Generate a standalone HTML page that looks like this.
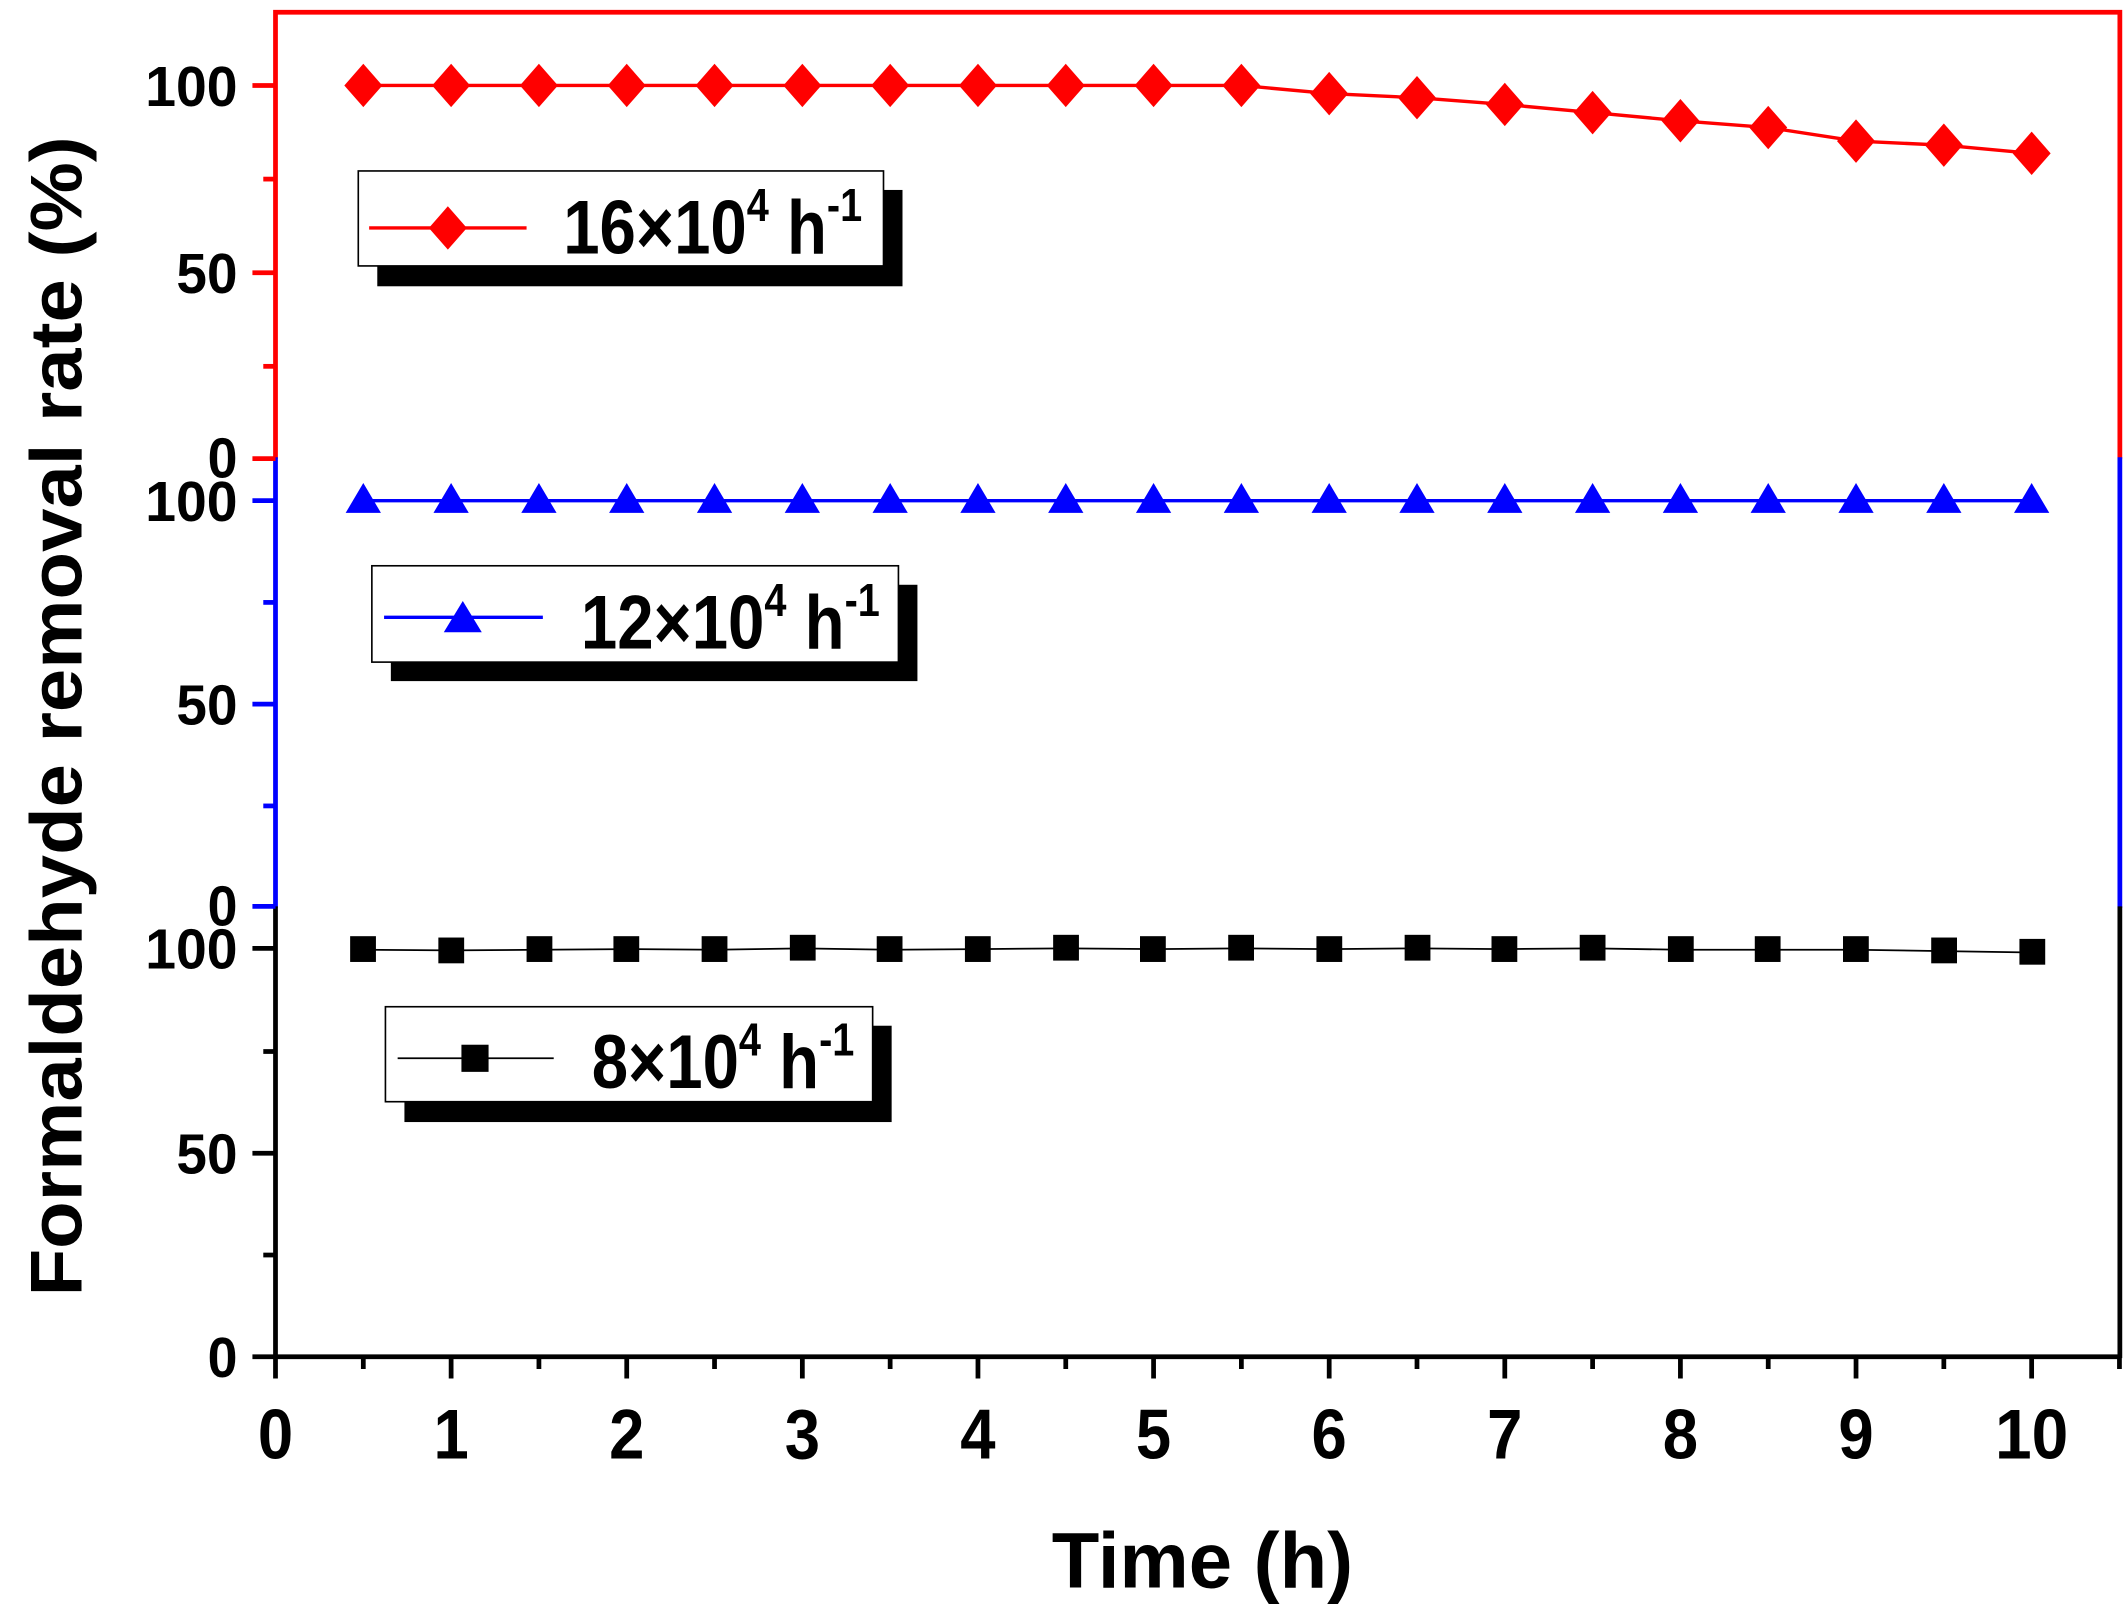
<!DOCTYPE html>
<html><head><meta charset="utf-8"><style>
html,body{margin:0;padding:0;background:#fff;}
svg{display:block;}
text{font-family:"Liberation Sans",Arial,sans-serif;font-weight:bold;}
</style></head><body>
<svg width="2128" height="1620" viewBox="0 0 1568 1194" preserveAspectRatio="none" xmlns="http://www.w3.org/2000/svg">
<rect width="1568" height="1194" fill="#fff"/>
<polyline points="203,338 203,9 1562,9 1562,338" fill="none" stroke="#f00" stroke-width="3.5"/>
<line x1="203" y1="337" x2="203" y2="669" stroke="#00f" stroke-width="3.5"/>
<line x1="1562" y1="337" x2="1562" y2="669" stroke="#00f" stroke-width="3.5"/>
<line x1="203" y1="668" x2="203" y2="1001" stroke="#000" stroke-width="3.5"/>
<line x1="1562" y1="668" x2="1562" y2="1001" stroke="#000" stroke-width="3.5"/>
<line x1="186" y1="1000" x2="1563" y2="1000" stroke="#000" stroke-width="3.5"/>
<g stroke="#f00" stroke-width="3.5">
<line x1="186" y1="63" x2="203" y2="63"/><line x1="194" y1="132" x2="203" y2="132"/>
<line x1="186" y1="201" x2="203" y2="201"/><line x1="194" y1="270" x2="203" y2="270"/>
<line x1="186" y1="338" x2="203" y2="338"/></g>
<g stroke="#00f" stroke-width="3.5">
<line x1="186" y1="369" x2="203" y2="369"/><line x1="194" y1="444" x2="203" y2="444"/>
<line x1="186" y1="519" x2="203" y2="519"/><line x1="194" y1="594" x2="203" y2="594"/>
<line x1="186" y1="668" x2="203" y2="668"/></g>
<g stroke="#000" stroke-width="3.5">
<line x1="186" y1="699" x2="203" y2="699"/><line x1="194" y1="775" x2="203" y2="775"/>
<line x1="186" y1="850" x2="203" y2="850"/><line x1="194" y1="925" x2="203" y2="925"/></g>
<g font-size="42" text-anchor="end">
<text x="175" y="78" textLength="68" lengthAdjust="spacingAndGlyphs">100</text>
<text x="175" y="216" textLength="45" lengthAdjust="spacingAndGlyphs">50</text>
<text x="175" y="352" textLength="22" lengthAdjust="spacingAndGlyphs">0</text>
<text x="175" y="384" textLength="68" lengthAdjust="spacingAndGlyphs">100</text>
<text x="175" y="534" textLength="45" lengthAdjust="spacingAndGlyphs">50</text>
<text x="175" y="682" textLength="22" lengthAdjust="spacingAndGlyphs">0</text>
<text x="175" y="714" textLength="68" lengthAdjust="spacingAndGlyphs">100</text>
<text x="175" y="865" textLength="45" lengthAdjust="spacingAndGlyphs">50</text>
<text x="175" y="1015" textLength="22" lengthAdjust="spacingAndGlyphs">0</text>
</g>
<g stroke="#000" stroke-width="3.5">
<line x1="203.0" y1="1000" x2="203.0" y2="1016"/><line x1="267.7" y1="1000" x2="267.7" y2="1009"/>
<line x1="332.4" y1="1000" x2="332.4" y2="1016"/><line x1="397.1" y1="1000" x2="397.1" y2="1009"/>
<line x1="461.8" y1="1000" x2="461.8" y2="1016"/><line x1="526.5" y1="1000" x2="526.5" y2="1009"/>
<line x1="591.2" y1="1000" x2="591.2" y2="1016"/><line x1="655.9" y1="1000" x2="655.9" y2="1009"/>
<line x1="720.6" y1="1000" x2="720.6" y2="1016"/><line x1="785.3" y1="1000" x2="785.3" y2="1009"/>
<line x1="850.0" y1="1000" x2="850.0" y2="1016"/><line x1="914.7" y1="1000" x2="914.7" y2="1009"/>
<line x1="979.4" y1="1000" x2="979.4" y2="1016"/><line x1="1044.1" y1="1000" x2="1044.1" y2="1009"/>
<line x1="1108.8" y1="1000" x2="1108.8" y2="1016"/><line x1="1173.5" y1="1000" x2="1173.5" y2="1009"/>
<line x1="1238.2" y1="1000" x2="1238.2" y2="1016"/><line x1="1302.9" y1="1000" x2="1302.9" y2="1009"/>
<line x1="1367.6" y1="1000" x2="1367.6" y2="1016"/><line x1="1432.3" y1="1000" x2="1432.3" y2="1009"/>
<line x1="1497.0" y1="1000" x2="1497.0" y2="1016"/><line x1="1561.7" y1="1000" x2="1561.7" y2="1009"/>
</g>
<g font-size="52" text-anchor="middle">
<text x="203" y="1075" textLength="26" lengthAdjust="spacingAndGlyphs">0</text>
<text x="332.4" y="1075" textLength="26" lengthAdjust="spacingAndGlyphs">1</text>
<text x="461.8" y="1075" textLength="26" lengthAdjust="spacingAndGlyphs">2</text>
<text x="591.2" y="1075" textLength="26" lengthAdjust="spacingAndGlyphs">3</text>
<text x="720.6" y="1075" textLength="26" lengthAdjust="spacingAndGlyphs">4</text>
<text x="850" y="1075" textLength="26" lengthAdjust="spacingAndGlyphs">5</text>
<text x="979.4" y="1075" textLength="26" lengthAdjust="spacingAndGlyphs">6</text>
<text x="1108.8" y="1075" textLength="26" lengthAdjust="spacingAndGlyphs">7</text>
<text x="1238.2" y="1075" textLength="26" lengthAdjust="spacingAndGlyphs">8</text>
<text x="1367.6" y="1075" textLength="26" lengthAdjust="spacingAndGlyphs">9</text>
<text x="1497" y="1075" textLength="54" lengthAdjust="spacingAndGlyphs">10</text>
</g>
<text x="886" y="1170" font-size="58" text-anchor="middle" textLength="222" lengthAdjust="spacingAndGlyphs">Time (h)</text>
<text transform="translate(60,528) rotate(-90)" font-size="54" text-anchor="middle" textLength="855" lengthAdjust="spacingAndGlyphs">Formaldehyde removal rate (%)</text>
<polyline fill="none" stroke="#f00" stroke-width="2.5" points="267.7,63 332.4,63 397.1,63 461.8,63 526.5,63 591.2,63 655.9,63 720.6,63 785.3,63 850,63 914.7,63 979.4,69 1044.1,72 1108.8,77 1173.5,83 1238.2,89 1302.9,94 1367.6,104 1432.3,107 1497,113"/>
<g fill="#f00">
<path d="M267.7,47 l14,16 -14,16 -14,-16z"/><path d="M332.4,47 l14,16 -14,16 -14,-16z"/>
<path d="M397.1,47 l14,16 -14,16 -14,-16z"/><path d="M461.8,47 l14,16 -14,16 -14,-16z"/>
<path d="M526.5,47 l14,16 -14,16 -14,-16z"/><path d="M591.2,47 l14,16 -14,16 -14,-16z"/>
<path d="M655.9,47 l14,16 -14,16 -14,-16z"/><path d="M720.6,47 l14,16 -14,16 -14,-16z"/>
<path d="M785.3,47 l14,16 -14,16 -14,-16z"/><path d="M850,47 l14,16 -14,16 -14,-16z"/>
<path d="M914.7,47 l14,16 -14,16 -14,-16z"/><path d="M979.4,53 l14,16 -14,16 -14,-16z"/>
<path d="M1044.1,56 l14,16 -14,16 -14,-16z"/><path d="M1108.8,61 l14,16 -14,16 -14,-16z"/>
<path d="M1173.5,67 l14,16 -14,16 -14,-16z"/><path d="M1238.2,73 l14,16 -14,16 -14,-16z"/>
<path d="M1302.9,78 l14,16 -14,16 -14,-16z"/><path d="M1367.6,88 l14,16 -14,16 -14,-16z"/>
<path d="M1432.3,91 l14,16 -14,16 -14,-16z"/><path d="M1497,97 l14,16 -14,16 -14,-16z"/>
</g>
<line x1="267.7" y1="369" x2="1497" y2="369" stroke="#00f" stroke-width="2.5"/>
<g fill="#00f">
<path d="M267.7,356 l13,22 h-26z"/><path d="M332.4,356 l13,22 h-26z"/><path d="M397.1,356 l13,22 h-26z"/>
<path d="M461.8,356 l13,22 h-26z"/><path d="M526.5,356 l13,22 h-26z"/><path d="M591.2,356 l13,22 h-26z"/>
<path d="M655.9,356 l13,22 h-26z"/><path d="M720.6,356 l13,22 h-26z"/><path d="M785.3,356 l13,22 h-26z"/>
<path d="M850,356 l13,22 h-26z"/><path d="M914.7,356 l13,22 h-26z"/><path d="M979.4,356 l13,22 h-26z"/>
<path d="M1044.1,356 l13,22 h-26z"/><path d="M1108.8,356 l13,22 h-26z"/><path d="M1173.5,356 l13,22 h-26z"/>
<path d="M1238.2,356 l13,22 h-26z"/><path d="M1302.9,356 l13,22 h-26z"/><path d="M1367.6,356 l13,22 h-26z"/>
<path d="M1432.3,356 l13,22 h-26z"/><path d="M1497,356 l13,22 h-26z"/>
</g>
<polyline fill="none" stroke="#000" stroke-width="1.3" points="267.7,700 332.4,700.5 397.1,700 461.8,699.5 526.5,700 591.2,699 655.9,700 720.6,699.5 785.3,699 850,699.5 914.7,699 979.4,699.5 1044.1,699 1108.8,699.5 1173.5,699 1238.2,700 1302.9,700 1367.6,700 1432.3,701 1497,702"/>
<g fill="#000">
<rect x="258" y="690" width="19" height="19"/><rect x="323" y="691" width="19" height="19"/>
<rect x="388" y="690" width="19" height="19"/><rect x="452" y="690" width="19" height="19"/>
<rect x="517" y="690" width="19" height="19"/><rect x="582" y="689" width="19" height="19"/>
<rect x="646" y="690" width="19" height="19"/><rect x="711" y="690" width="19" height="19"/>
<rect x="776" y="689" width="19" height="19"/><rect x="840" y="690" width="19" height="19"/>
<rect x="905" y="689" width="19" height="19"/><rect x="970" y="690" width="19" height="19"/>
<rect x="1035" y="689" width="19" height="19"/><rect x="1099" y="690" width="19" height="19"/>
<rect x="1164" y="689" width="19" height="19"/><rect x="1229" y="690" width="19" height="19"/>
<rect x="1293" y="690" width="19" height="19"/><rect x="1358" y="690" width="19" height="19"/>
<rect x="1423" y="691" width="19" height="19"/><rect x="1488" y="692" width="19" height="19"/>
</g>
<rect x="278" y="140" width="387" height="71" fill="#000"/>
<rect x="264" y="126" width="387" height="70" fill="#fff" stroke="#000" stroke-width="1.2"/>
<line x1="272" y1="168" x2="388" y2="168" stroke="#f00" stroke-width="2.5"/>
<path d="M330,152 l14,16 -14,16 -14,-16z" fill="#f00"/>
<text transform="translate(415,187) scale(0.86,1)" font-size="56">16×10<tspan font-size="34" dy="-24">4</tspan><tspan dy="24"> h</tspan><tspan font-size="34" dy="-24">-1</tspan></text>

<rect x="288" y="431" width="388" height="71" fill="#000"/>
<rect x="274" y="417" width="388" height="71" fill="#fff" stroke="#000" stroke-width="1.2"/>
<line x1="283" y1="455" x2="400" y2="455" stroke="#00f" stroke-width="2.5"/>
<path d="M341,443 l14,23 h-28z" fill="#00f"/>
<text transform="translate(428,478) scale(0.86,1)" font-size="56">12×10<tspan font-size="34" dy="-24">4</tspan><tspan dy="24"> h</tspan><tspan font-size="34" dy="-24">-1</tspan></text>

<rect x="298" y="756" width="359" height="71" fill="#000"/>
<rect x="284" y="742" width="359" height="70" fill="#fff" stroke="#000" stroke-width="1.2"/>
<line x1="293" y1="780" x2="408" y2="780" stroke="#000" stroke-width="1.3"/>
<rect x="340" y="770" width="20" height="20" fill="#000"/>
<text transform="translate(436,802) scale(0.86,1)" font-size="56">8×10<tspan font-size="34" dy="-24">4</tspan><tspan dy="24"> h</tspan><tspan font-size="34" dy="-24">-1</tspan></text>
</svg>
</body></html>
